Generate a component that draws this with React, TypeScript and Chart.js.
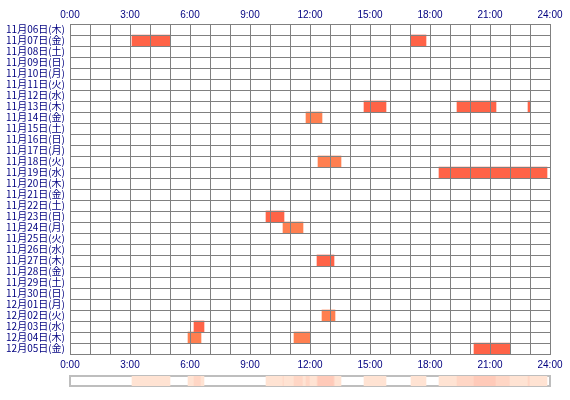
import React, { useEffect, useRef } from "react";
import { Chart, registerables } from "chart.js";
Chart.register(...registerables);

const days = [
  "11月06日(木)", "11月07日(金)", "11月08日(土)", "11月09日(日)", "11月10日(月)",
  "11月11日(火)", "11月12日(水)", "11月13日(木)", "11月14日(金)", "11月15日(土)",
  "11月16日(日)", "11月17日(月)", "11月18日(火)", "11月19日(水)", "11月20日(木)",
  "11月21日(金)", "11月22日(土)", "11月23日(日)", "11月24日(月)", "11月25日(火)",
  "11月26日(水)", "11月27日(木)", "11月28日(金)", "11月29日(土)", "11月30日(日)",
  "12月01日(月)", "12月02日(火)", "12月03日(水)", "12月04日(木)", "12月05日(金)",
];

// activity bars: row index, start hour, end hour, tone
const barDay = [1, 1, 7, 7, 7, 8, 12, 13, 17, 18, 21, 26, 27, 28, 28, 29];
const barStart = [3.1, 17.05, 14.7, 19.35, 22.9, 11.8, 12.4, 18.45, 9.8, 10.65, 12.35, 12.6, 6.2, 5.9, 11.2, 20.2];
const barEnd = [5.0, 17.8, 15.8, 21.3, 23.0, 12.6, 13.55, 23.85, 10.7, 11.65, 13.2, 13.25, 6.7, 6.55, 12.0, 22.0];
const barTone = [0, 0, 0, 0, 0, 1, 1, 0, 0, 1, 0, 1, 0, 1, 1, 0];
const toneColors = ["#FF6347", "#FF7F50"];

// summary strip: start hour, end hour, level
const stripStart = [3.1, 5.9, 6.2, 6.55, 9.8, 10.65, 10.7, 11.2, 11.65, 11.8, 12.0, 12.35, 12.4, 13.2, 13.25, 14.7, 17.05, 18.45, 19.35, 20.2, 21.3, 22.0, 22.9, 23.0];
const stripEnd = [5.0, 6.2, 6.55, 6.7, 10.65, 10.7, 11.2, 11.65, 11.8, 12.0, 12.35, 12.4, 13.2, 13.25, 13.55, 15.8, 17.8, 19.35, 20.2, 21.3, 22.0, 22.9, 23.0, 23.85];
const stripLevel = [1, 1, 2, 1, 1, 2, 1, 2, 1, 2, 1, 2, 3, 2, 1, 1, 1, 1, 2, 3, 2, 1, 2, 1];
const levelColors = ["#FFFFFF", "#FFE3D3", "#FFD6C5", "#FFCAB9"];

const hourTicks = (v: any) => (Number(v) % 3 === 0 ? `${v}:00` : "");
const GRID = "#808080";
const NAVY = "#000080";
const tickFont = { family: "'Liberation Sans', Arial, sans-serif", size: 10 };

export default function App() {
  const mainRef = useRef<HTMLCanvasElement>(null);
  const stripRef = useRef<HTMLCanvasElement>(null);

  useEffect(() => {
    const main = new Chart(mainRef.current!, {
      type: "bar",
      data: {
        labels: days,
        datasets: [
          {
            data: barStart.map((s, i) => ({ x: [s, barEnd[i]], y: days[barDay[i]] })) as any,
            backgroundColor: barTone.map((t) => toneColors[t]),
            borderWidth: 0,
            barPercentage: 1,
            categoryPercentage: 1,
            grouped: false,
          },
        ],
      },
      options: {
        animation: false,
        responsive: false,
        indexAxis: "y",
        layout: { padding: { left: 0, right: 20, top: 0, bottom: 0 } },
        plugins: { legend: { display: false }, tooltip: { enabled: false } },
        scales: {
          x: {
            type: "linear",
            position: "top",
            min: 0,
            max: 24,
            grid: { color: GRID, lineWidth: 1, drawTicks: false, z: 1 },
            border: { color: GRID, width: 1, z: 1 },
            ticks: { stepSize: 1, autoSkip: false, maxRotation: 0, padding: 3, color: NAVY, font: tickFont, callback: hourTicks },
            afterFit: (s: any) => { s.height = 24; },
          },
          xb: {
            type: "linear",
            position: "bottom",
            axis: "x",
            min: 0,
            max: 24,
            grid: { display: false, drawTicks: false },
            border: { color: GRID, width: 1, z: 1 },
            ticks: { stepSize: 1, autoSkip: false, maxRotation: 0, padding: 5, color: NAVY, font: tickFont, callback: hourTicks },
            afterFit: (s: any) => { s.height = 16; },
          },
          y: {
            type: "category",
            position: "left",
            offset: true,
            grid: { color: GRID, lineWidth: 1, drawTicks: false, offset: true, z: 1 },
            border: { color: GRID, width: 1, z: 1 },
            ticks: { autoSkip: false, padding: 5, color: NAVY, font: { family: "'Noto Sans CJK JP', sans-serif", size: 10 } },
            afterFit: (s: any) => { s.width = 70; },
          },
        },
      } as any,
    });

    const strip = new Chart(stripRef.current!, {
      type: "bar",
      data: {
        labels: ["all"],
        datasets: [
          {
            data: stripStart.map((s, i) => ({ x: [s, stripEnd[i]], y: "all" })) as any,
            backgroundColor: stripLevel.map((l) => levelColors[l]),
            borderWidth: 0,
            barPercentage: 1,
            categoryPercentage: 1,
            grouped: false,
          },
        ],
      },
      options: {
        animation: false,
        responsive: false,
        indexAxis: "y",
        layout: { padding: { left: 70, right: 20, top: 8, bottom: 12 } },
        plugins: { legend: { display: false }, tooltip: { enabled: false } },
        scales: {
          x: {
            type: "linear", position: "bottom", min: 0, max: 24,
            grid: { display: false, drawTicks: false },
            ticks: { display: false },
            border: { color: "#BEBEBE", width: 2 },
            afterFit: (s: any) => { s.height = 0; },
          },
          xt: {
            type: "linear", position: "top", axis: "x", min: 0, max: 24,
            grid: { display: false, drawTicks: false },
            ticks: { display: false },
            border: { color: "#BEBEBE", width: 2 },
            afterFit: (s: any) => { s.height = 0; },
          },
          y: {
            type: "category", position: "left",
            grid: { display: false, drawTicks: false },
            ticks: { display: false },
            border: { color: "#BEBEBE", width: 2 },
            afterFit: (s: any) => { s.width = 0; },
          },
          yr: {
            type: "category", position: "right", axis: "y",
            grid: { display: false, drawTicks: false },
            ticks: { display: false },
            border: { color: "#BEBEBE", width: 2 },
            afterFit: (s: any) => { s.width = 0; },
          },
        },
      } as any,
    });

    return () => {
      main.destroy();
      strip.destroy();
    };
  }, []);

  return (
    <div style={{ position: "absolute", left: 0, top: 0, width: 570, height: 400, background: "#fff" }}>
      <canvas ref={mainRef} width={570} height={370} style={{ display: "block", position: "absolute", left: 0, top: 0 }} />
      <canvas ref={stripRef} width={570} height={30} style={{ display: "block", position: "absolute", left: 0, top: 368 }} />
    </div>
  );
}
